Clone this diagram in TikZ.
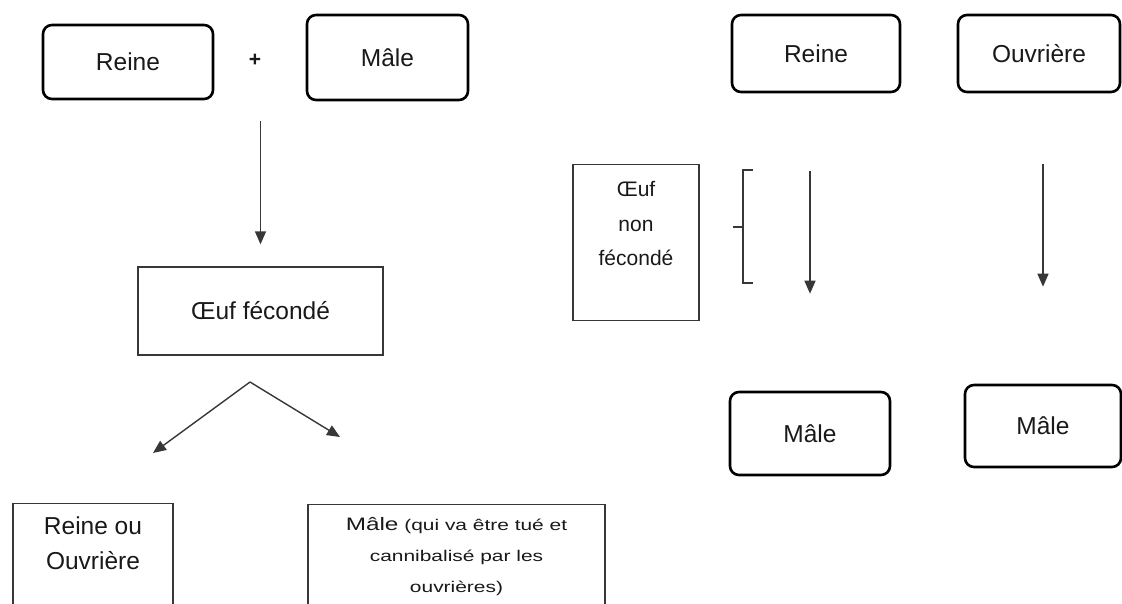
\documentclass[tikz,border=0pt]{standalone}
\usepackage{fontspec}
\setmainfont{Liberation Sans}
\newfontfamily\widesans[FakeStretch=1.35]{Liberation Sans}
\usetikzlibrary{arrows.meta, positioning, calc}
\definecolor{InkGray}{RGB}{25, 25, 25}
\definecolor{LineGray}{RGB}{55, 55, 55}

\begin{document}
\begin{tikzpicture}[
  x=1pt, y=-1pt,
  every node/.style={font=\fontsize{24.5}{35}\selectfont, text=InkGray},
  caste/.style={draw=black, rounded corners=9pt, line width=2.6pt, fill=white,
                align=center, inner sep=0pt},
  eggbox/.style={draw=LineGray, line width=1.3pt, fill=white, inner xsep=0pt},
  arr/.style={-{Triangle[length=13pt, width=11pt]}, line width=1.4pt, draw=LineGray}
]
  \useasboundingbox (0,0) rectangle (1122,603);
  \clip (0,0) rectangle (1122,603);

  %% Left half: fertilised egg
  \node[caste, minimum width=170pt, minimum height=74pt] (reineA) at (128,62) {Reine};
  \node (plus) at (255,60) {\fontsize{21}{21}\selectfont\bfseries +};
  \node[caste, minimum width=161pt, minimum height=85pt] (maleA) at (387.5,57.5) {Mâle};

  \node[eggbox, minimum width=245pt, minimum height=88pt] (oeufF) at (260.5,311) {Œuf fécondé};

  \coordinate (split) at (250,382);
  \coordinate (toRO)  at (153,453);
  \coordinate (toMQ)  at (340,437);

  \node[eggbox, anchor=north, inner ysep=13pt] (reineOu) at (93,503)
        {\parbox[t][86pt][t]{160pt}{\centering Reine ou\\Ouvrière}};
  \node[eggbox, anchor=north, inner ysep=13pt] (maleQui) at (456.5,504)
        {\parbox[t][86pt][t]{297pt}{\centering\widesans\fontsize{15.5}{31}\selectfont
         {\fontsize{18}{31}\selectfont Mâle} (qui va être tué et\\cannibalisé par les\\ouvrières)}};

  %% Right half: unfertilised egg
  \node[caste, minimum width=168pt, minimum height=77pt] (reineB) at (816,53.5) {Reine};
  \node[caste, minimum width=162pt, minimum height=77pt] (ouvB) at (1039,53.5) {Ouvrière};

  \node[eggbox, anchor=north, inner ysep=17pt] (oeufNF) at (636,164)
        {\parbox[t][122pt][t]{126pt}{\centering\fontsize{21}{34.5}\selectfont Œuf\\non\\fécondé}};

  \node[caste, minimum width=160pt, minimum height=83pt] (maleB) at (810,433.5) {Mâle};
  \node[caste, minimum width=156pt, minimum height=82pt] (maleC) at (1043,426) {Mâle};

  %% bracket beside the egg
  \draw[LineGray, line width=1.2pt] (753,170) -- (743,170) -- (743,283) -- (753,283)
        (733,227) -- (743,227);

  %% Arrows
  \draw[arr, shorten <=20pt, shorten >=22pt] (oeufF.north |- maleA.south) -- (oeufF.north);
  \draw[arr] (split) -- (toRO);
  \draw[arr] (split) -- (toMQ);
  \draw[arr, shorten <=78pt, shorten >=97pt] (maleB.north |- reineB.south) -- (maleB.north);
  \draw[arr, shorten <=71pt, shorten >=97pt] (maleC.north |- ouvB.south) -- (maleC.north);
\end{tikzpicture}
\end{document}
